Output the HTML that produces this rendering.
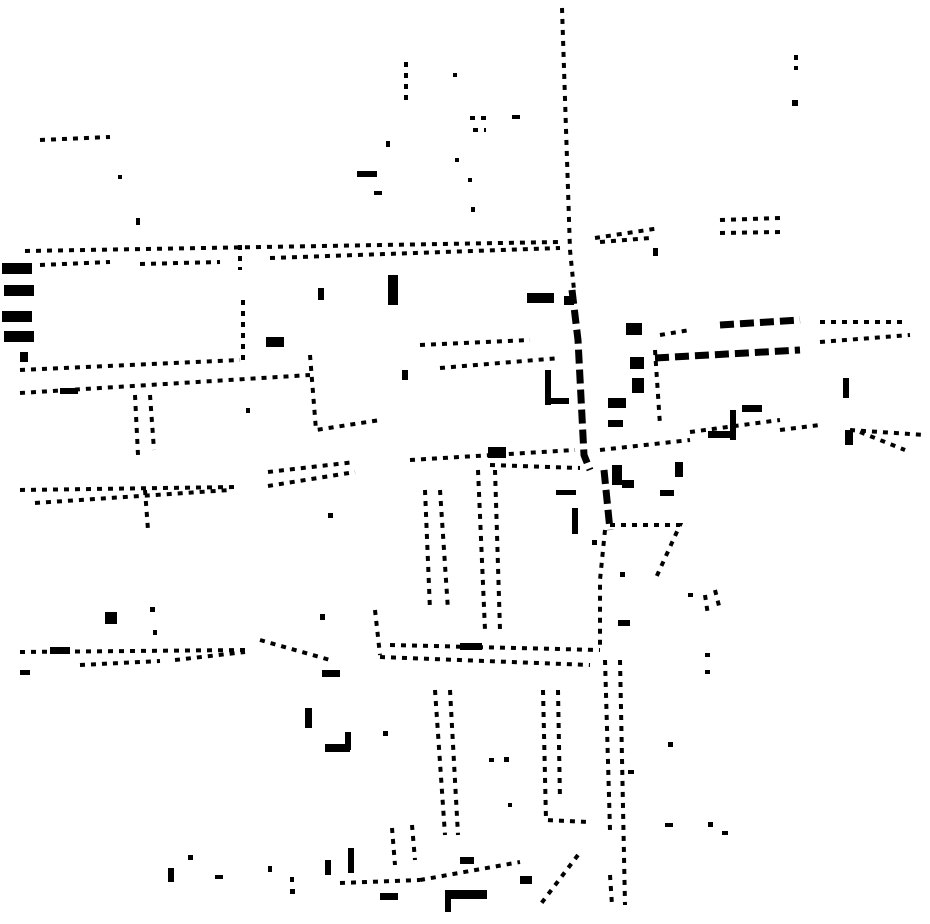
<!DOCTYPE html>
<html><head><meta charset="utf-8"><style>html,body{margin:0;background:#fff}svg{display:block}</style></head><body>
<svg width="930" height="924" viewBox="0 0 930 924" xmlns="http://www.w3.org/2000/svg">
<g fill="none" stroke="#000" stroke-width="4" stroke-dasharray="5 6">
<polyline points="562,8 570,250 574,290"/>
<polyline points="25,251 560,242"/>
<polyline points="40,265 110,262"/><polyline points="140,264 220,262"/><polyline points="270,258 560,248"/>
<polyline points="20,393 310,375"/><polyline points="20,370 240,360"/>
<polyline points="20,490 235,487"/><polyline points="35,503 230,490"/>
<polyline points="268,472 355,462"/><polyline points="268,486 355,472"/>
<polyline points="410,460 575,450"/><polyline points="490,465 580,468"/>
<polyline points="20,652 245,650"/><polyline points="80,665 160,661"/><polyline points="175,660 245,652"/>
<polyline points="260,640 330,660"/><polyline points="380,657 590,665"/><polyline points="390,645 600,650"/>
<polyline points="660,335 690,330"/><polyline points="820,322 905,322"/><polyline points="820,342 910,335"/>
<polyline points="600,450 690,440"/><polyline points="690,432 780,420"/><polyline points="780,430 820,425"/>
<polyline points="595,238 660,228"/><polyline points="600,242 650,238"/><polyline points="720,220 780,218"/><polyline points="720,233 780,232"/>
<polyline points="240,245 240,270"/><polyline points="243,300 243,360"/>
<polyline points="310,355 316,430 380,420"/>
<polyline points="135,395 138,455"/><polyline points="150,395 154,450"/>
<polyline points="425,490 430,610"/><polyline points="440,490 448,610"/>
<polyline points="478,470 485,630"/><polyline points="495,470 500,630"/>
<polyline points="435,690 445,835"/><polyline points="450,690 458,835"/>
<polyline points="543,690 546,820 590,822"/><polyline points="558,690 560,800"/>
<polyline points="605,530 600,580 600,650"/><polyline points="605,660 610,830"/><polyline points="620,660 625,905"/>
<polyline points="610,875 612,905"/>
<polyline points="375,610 380,655"/>
<polyline points="145,490 148,530"/>
<polyline points="610,525 680,525 655,580"/>
<polyline points="655,350 660,425"/>
<polyline points="850,430 925,435"/><polyline points="860,432 905,450"/>
<polyline points="715,590 720,610"/><polyline points="705,595 708,615"/>
<polyline points="705,655 715,655"/><polyline points="705,672 715,672"/>
<polyline points="340,883 420,880"/><polyline points="420,880 520,862"/>
<polyline points="578,855 540,905"/>
<polyline points="392,828 395,865"/><polyline points="412,825 415,860"/>
<polyline points="406,62 406,105"/><polyline points="470,118 490,118"/><polyline points="473,130 486,130"/>
<polyline points="40,140 110,137"/><polyline points="796,55 796,70"/>
<polyline points="420,345 530,340"/><polyline points="440,368 560,358"/>
</g>
<g fill="none" stroke="#000" stroke-width="7" stroke-dasharray="14 6">
<polyline points="572,290 578,340 584,455 590,470"/>
<polyline points="604,470 610,530"/>
<polyline points="655,358 800,350"/><polyline points="720,325 800,320"/>
</g>
<g fill="#000">
<rect x="2" y="263" width="30" height="11"/><rect x="4" y="285" width="30" height="11"/><rect x="2" y="311" width="30" height="11"/><rect x="4" y="331" width="30" height="11"/>
<rect x="527" y="293" width="27" height="10"/><rect x="564" y="296" width="10" height="9"/>
<rect x="388" y="275" width="10" height="30"/><rect x="357" y="171" width="20" height="6"/>
<rect x="545" y="370" width="6" height="35"/><rect x="545" y="398" width="24" height="6"/>
<rect x="626" y="323" width="16" height="12"/><rect x="630" y="357" width="14" height="12"/><rect x="632" y="378" width="12" height="15"/>
<rect x="488" y="447" width="18" height="11"/><rect x="608" y="398" width="18" height="10"/><rect x="608" y="420" width="15" height="7"/>
<rect x="612" y="465" width="10" height="20"/><rect x="622" y="480" width="12" height="8"/><rect x="675" y="462" width="8" height="15"/>
<rect x="660" y="490" width="14" height="6"/><rect x="708" y="431" width="24" height="7"/><rect x="730" y="410" width="6" height="30"/><rect x="742" y="405" width="20" height="7"/>
<rect x="843" y="378" width="6" height="20"/><rect x="845" y="430" width="8" height="15"/>
<rect x="266" y="337" width="18" height="10"/><rect x="318" y="288" width="6" height="12"/><rect x="402" y="370" width="6" height="10"/>
<rect x="60" y="388" width="18" height="6"/><rect x="50" y="647" width="20" height="7"/><rect x="105" y="612" width="12" height="12"/>
<rect x="322" y="670" width="18" height="7"/><rect x="305" y="708" width="7" height="20"/><rect x="325" y="744" width="25" height="8"/><rect x="345" y="732" width="6" height="18"/>
<rect x="460" y="643" width="22" height="7"/><rect x="572" y="508" width="6" height="26"/><rect x="556" y="490" width="20" height="5"/>
<rect x="618" y="620" width="12" height="6"/><rect x="445" y="890" width="42" height="9"/><rect x="445" y="898" width="6" height="14"/>
<rect x="520" y="876" width="12" height="8"/><rect x="380" y="893" width="18" height="7"/><rect x="460" y="857" width="14" height="7"/>
<rect x="325" y="860" width="6" height="15"/><rect x="348" y="848" width="6" height="25"/><rect x="168" y="868" width="6" height="14"/>
<rect x="20" y="670" width="10" height="5"/><rect x="20" y="352" width="8" height="10"/><rect x="792" y="100" width="6" height="6"/>
<rect x="453" y="73" width="4" height="4"/><rect x="512" y="115" width="8" height="4"/><rect x="386" y="141" width="4" height="6"/>
<rect x="455" y="158" width="4" height="4"/><rect x="468" y="178" width="4" height="4"/><rect x="471" y="207" width="4" height="5"/>
<rect x="374" y="191" width="8" height="4"/><rect x="118" y="175" width="4" height="4"/><rect x="136" y="218" width="4" height="7"/>
<rect x="653" y="248" width="5" height="8"/><rect x="246" y="408" width="4" height="5"/><rect x="328" y="513" width="5" height="5"/>
<rect x="150" y="607" width="5" height="5"/><rect x="153" y="630" width="4" height="5"/><rect x="320" y="614" width="5" height="6"/>
<rect x="383" y="731" width="5" height="5"/><rect x="489" y="758" width="5" height="4"/><rect x="504" y="757" width="5" height="5"/>
<rect x="508" y="803" width="4" height="4"/><rect x="668" y="742" width="5" height="5"/><rect x="665" y="823" width="8" height="4"/>
<rect x="708" y="822" width="5" height="5"/><rect x="722" y="831" width="6" height="4"/><rect x="188" y="855" width="5" height="5"/>
<rect x="215" y="875" width="8" height="4"/><rect x="268" y="866" width="4" height="6"/><rect x="290" y="877" width="4" height="5"/>
<rect x="290" y="889" width="5" height="5"/><rect x="628" y="770" width="6" height="4"/><rect x="688" y="593" width="5" height="4"/>
<rect x="620" y="572" width="5" height="5"/><rect x="592" y="540" width="5" height="5"/>
</g>
</svg>
</body></html>
